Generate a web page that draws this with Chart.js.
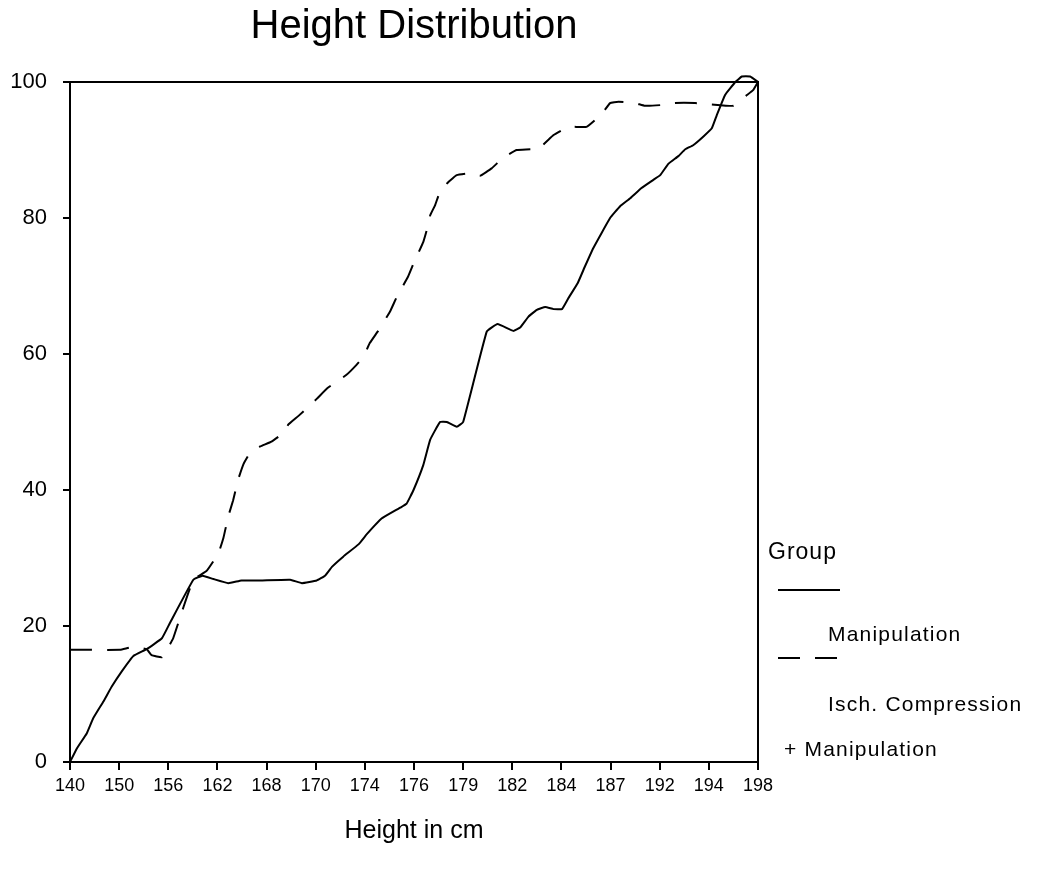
<!DOCTYPE html>
<html>
<head>
<meta charset="utf-8">
<title>Height Distribution</title>
<script src="https://cdn.jsdelivr.net/npm/chart.js@4.4.1/dist/chart.umd.min.js"></script>
<style>
  html, body { margin: 0; padding: 0; background: #fff; }
  #wrap { position: relative; width: 1038px; height: 877px; }
</style>
</head>
<body>
<div id="wrap"><canvas id="myChart"></canvas></div>
<script>
// tick labels of the height axis (one per step on the x scale)
const heightLabels = ["140", "150", "156", "162", "168", "170", "174", "176",
  "179", "182", "184", "187", "192", "194", "198"];

// Manipulation group: position along height axis, cumulative percent
const manipPos = [0, 0.14, 0.34, 0.47, 0.68, 0.85, 1.05, 1.29, 1.56, 1.87,
  2.03, 2.51, 2.70, 2.92, 3.22, 3.49, 3.87, 4.48, 4.72, 5.02,
  5.19, 5.33, 5.56, 5.87, 6.04, 6.34, 6.72, 6.85, 6.99, 7.19,
  7.33, 7.53, 7.67, 7.87, 8.00, 8.48, 8.70, 9.02, 9.16, 9.33,
  9.50, 9.67, 9.84, 10.01, 10.14, 10.33, 10.48, 10.65, 10.99, 11.19,
  11.40, 11.63, 11.87, 12.01, 12.18, 12.38, 12.52, 12.68, 12.89, 13.06,
  13.16, 13.33, 13.54, 13.67, 13.84, 14.0];
const manipPct = [0, 2.0, 4.2, 6.4, 8.9, 11.1, 13.3, 15.6, 16.6, 18.2,
  20.4, 26.8, 27.4, 26.9, 26.3, 26.7, 26.7, 26.8, 26.3, 26.7,
  27.4, 28.7, 30.2, 32.0, 33.5, 35.8, 37.4, 38.0, 40.0, 43.7,
  47.4, 50.0, 50.0, 49.3, 50.0, 63.3, 64.4, 63.4, 63.9, 65.5,
  66.5, 66.9, 66.6, 66.6, 68.2, 70.4, 72.9, 75.6, 80.0, 81.7,
  82.9, 84.4, 85.6, 86.3, 88.0, 89.1, 90.1, 90.7, 92.0, 93.2,
  95.1, 98.1, 100.0, 100.8, 100.8, 100.0];

// Isch. Compression + Manipulation group
const ischPos = [0, 1.02, 1.26, 1.56, 1.66, 1.87, 1.97, 2.10, 2.31, 2.51,
  2.78, 3.02, 3.12, 3.22, 3.32, 3.42, 3.53, 3.66, 3.87, 4.10,
  4.38, 4.44, 4.65, 5.02, 5.24, 5.62, 5.83, 5.97, 6.10, 6.27,
  6.51, 6.65, 6.88, 6.99, 7.19, 7.29, 7.33, 7.43, 7.53, 7.70,
  7.87, 8.17, 8.34, 8.58, 8.82, 9.09, 9.53, 9.84, 10.14, 10.51,
  10.82, 10.99, 11.16, 11.50, 11.70, 12.01, 12.31, 12.72, 13.06, 13.50,
  13.76, 13.90, 14.0];
const ischPct = [16.5, 16.5, 16.9, 16.6, 15.7, 15.4, 16.5, 18.2, 22.8, 26.8,
  28.1, 30.7, 32.9, 36.1, 38.5, 41.5, 43.8, 45.4, 46.4, 47.1,
  48.6, 49.6, 50.9, 53.4, 55.0, 56.9, 58.4, 59.6, 61.6, 63.4,
  66.2, 68.4, 71.4, 73.3, 76.5, 79.0, 80.4, 81.9, 83.9, 85.3,
  86.3, 86.6, 86.2, 87.3, 88.9, 90.0, 90.2, 92.2, 93.4, 93.4,
  95.3, 96.9, 97.1, 96.9, 96.5, 96.6, 96.9, 96.9, 96.7, 96.5,
  98.0, 98.8, 100.0];

const yTicks = [0, 20, 40, 60, 80, 100];

const FONT = "'Liberation Sans', Arial, Helvetica, sans-serif";

function toPoints(xs, ys) {
  return xs.map((x, i) => ({ x: x, y: ys[i] }));
}

// closes the plot box on the top and right sides
const framePlugin = {
  id: "frame",
  beforeDatasetsDraw(chart) {
    const { ctx, chartArea: a } = chart;
    ctx.save();
    ctx.strokeStyle = "#000";
    ctx.lineWidth = 2;
    ctx.beginPath();
    ctx.moveTo(a.left, a.top);
    ctx.lineTo(a.right, a.top);
    ctx.lineTo(a.right, a.bottom);
    ctx.stroke();
    ctx.restore();
  },
};

// SPSS style legend: heading, then line sample above each label
const groupLegend = {
  id: "groupLegend",
  afterDraw(chart) {
    const { ctx, chartArea: a } = chart;
    const x0 = a.right;
    ctx.save();
    ctx.fillStyle = "#000";
    ctx.textBaseline = "middle";
    ctx.textAlign = "left";

    ctx.font = "23px " + FONT;
    ctx.letterSpacing = "1px";
    ctx.fillText("Group", x0 + 10, 553);

    const rows = [
      { lineY: 590, text: [[70, 635, chart.data.datasets[0].label]] },
      {
        lineY: 658,
        text: [
          [70, 705, chart.data.datasets[1].label[0]],
          [26, 750, chart.data.datasets[1].label[1]],
        ],
      },
    ];
    ctx.font = "21px " + FONT;
    ctx.letterSpacing = "1.2px";
    rows.forEach((row, i) => {
      const ds = chart.data.datasets[i];
      ctx.save();
      ctx.strokeStyle = ds.borderColor;
      ctx.lineWidth = ds.borderWidth;
      ctx.setLineDash(ds.borderDash || []);
      ctx.beginPath();
      ctx.moveTo(x0 + 20, row.lineY);
      ctx.lineTo(x0 + 82, row.lineY);
      ctx.stroke();
      ctx.restore();
      row.text.forEach((t) => ctx.fillText(t[2], x0 + t[0], t[1]));
    });
    ctx.restore();
  },
};

const ctx = document.getElementById("myChart");
new Chart(ctx, {
  type: "line",
  data: {
    datasets: [
      {
        label: "Manipulation",
        data: toPoints(manipPos, manipPct),
        borderColor: "#000",
        borderWidth: 2,
        pointRadius: 0,
        tension: 0.1,
        clip: false,
      },
      {
        label: ["Isch. Compression", "+ Manipulation"],
        data: toPoints(ischPos, ischPct),
        borderColor: "#000",
        borderWidth: 2,
        borderDash: [22, 15],
        pointRadius: 0,
        tension: 0.1,
        clip: false,
      },
    ],
  },
  options: {
    responsive: true,
    maintainAspectRatio: false,
    animation: false,
    events: [],
    layout: { padding: { left: 0, right: 280, top: 0, bottom: 0 } },
    scales: {
      x: {
        type: "linear",
        min: 0,
        max: heightLabels.length - 1,
        afterFit(scale) {
          scale.height = 115;
        },
        ticks: {
          stepSize: 1,
          autoSkip: false,
          maxRotation: 0,
          padding: 5,
          color: "#000",
          font: { family: FONT, size: 18 },
          callback: (v) => heightLabels[Math.round(v)],
        },
        grid: {
          drawOnChartArea: false,
          drawTicks: true,
          tickLength: 8,
          color: "#000",
          lineWidth: 2,
        },
        border: { display: true, color: "#000", width: 2 },
        title: {
          display: true,
          text: "Height in cm",
          color: "#000",
          font: { family: FONT, size: 25 },
          padding: { top: 0, bottom: 31 },
        },
      },
      y: {
        min: yTicks[0],
        max: yTicks[yTicks.length - 1],
        afterFit(scale) {
          scale.width = 70;
        },
        afterBuildTicks(scale) {
          scale.ticks = yTicks.map((v) => ({ value: v }));
        },
        ticks: {
          padding: 16,
          color: "#000",
          font: { family: FONT, size: 22 },
        },
        grid: {
          drawOnChartArea: false,
          drawTicks: true,
          tickLength: 7,
          color: "#000",
          lineWidth: 2,
        },
        border: { display: true, color: "#000", width: 2 },
      },
    },
    plugins: {
      legend: { display: false },
      tooltip: { enabled: false },
      title: {
        display: true,
        fullSize: false,
        text: "Height Distribution",
        color: "#000",
        font: { family: FONT, size: 40, weight: "normal" },
        padding: { top: 3, bottom: 31 },
      },
    },
  },
  plugins: [framePlugin, groupLegend],
});
</script>
</body>
</html>
